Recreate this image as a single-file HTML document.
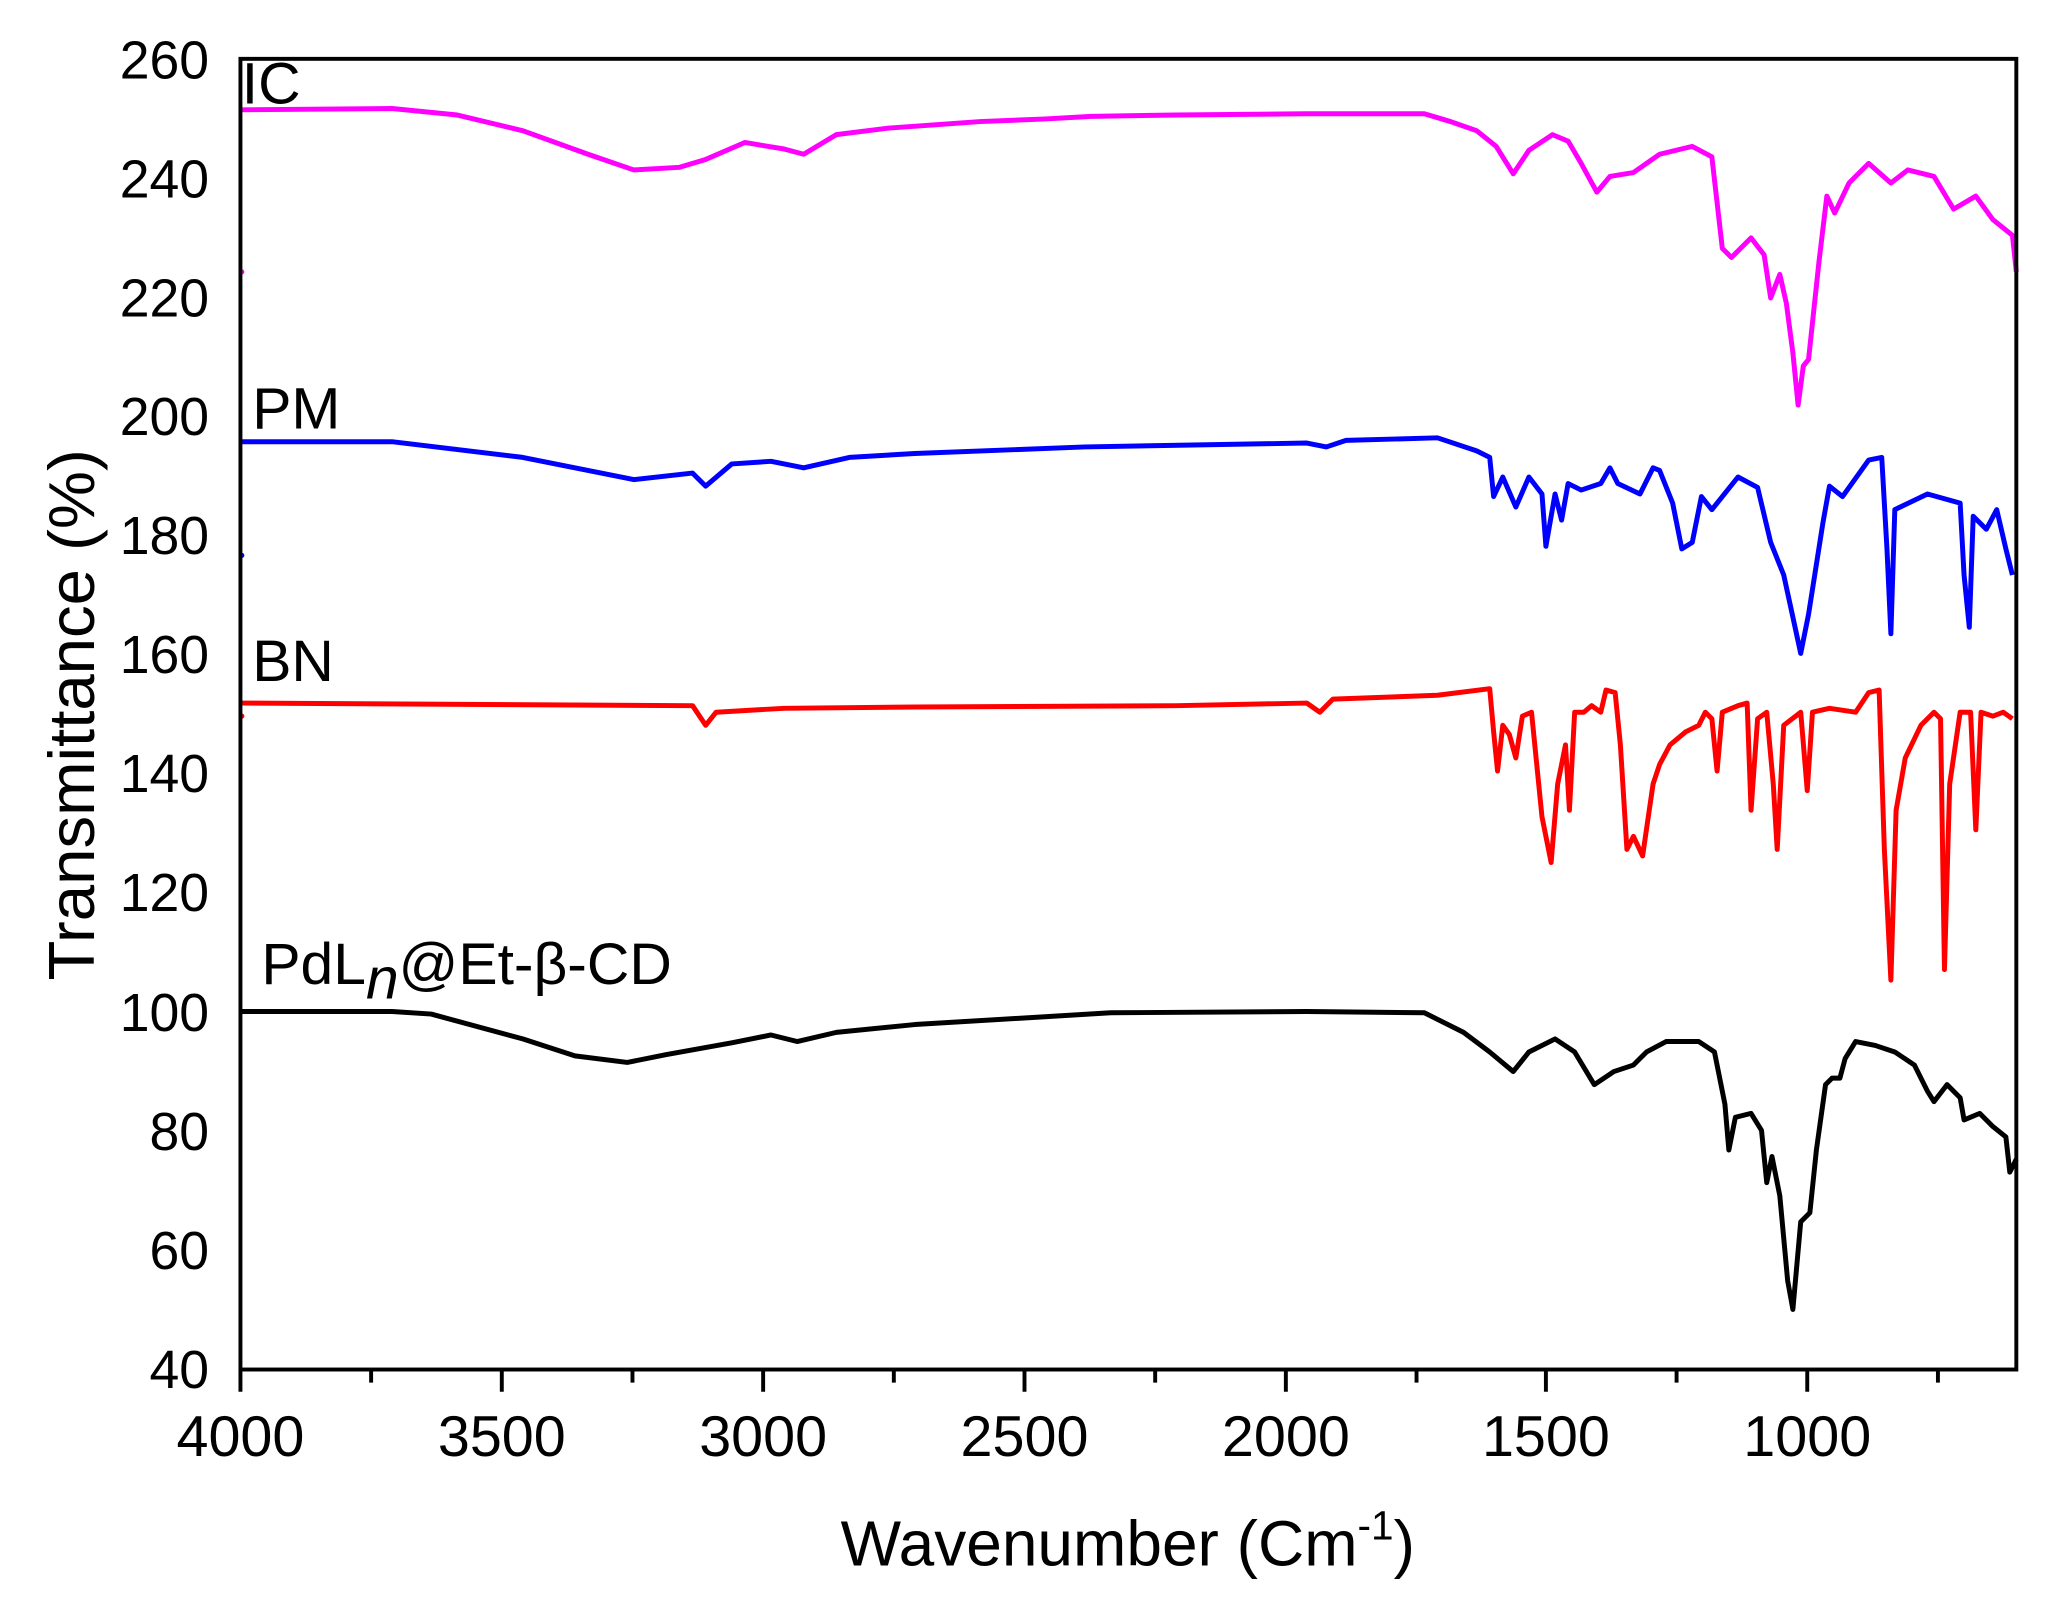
<!DOCTYPE html>
<html><head><meta charset="utf-8"><style>html,body{margin:0;padding:0;background:#fff}svg{display:block}</style></head><body>
<svg width="2049" height="1610" viewBox="0 0 1568 1232" xmlns="http://www.w3.org/2000/svg" font-family="Liberation Sans, DejaVu Sans, sans-serif">
<rect width="1568" height="1232" fill="#fff"/>
<g fill="none" stroke-width="3.8" stroke-linejoin="round">
<path stroke="#ff00ff" d="M184,84 L300,83 350,88 400,100 450,118 485,130 520,128 540,122 570,109 600,114 615,118 640,103 680,98 750,93 800,91 835,89 900,88 1000,87 1090,87 1110,93 1130,100 1145,112 1158,133 1170,115 1188,103 1200,108 1210,125 1222,147 1232,135 1250,132 1270,118 1295,112 1310,120 1318,190 1325,197 1340,182 1350,195 1355,228 1362,210 1367,232 1372,270 1376,310 1380,280 1384,275 1392,200 1398,150 1404,163 1415,140 1430,125 1447,140 1460,130 1480,135 1495,160 1512,150 1525,168 1540,180 1543,208"/>
<path stroke="#0000ff" d="M184,338 L300,338 400,350 485,367 530,362 540,372 560,355 590,353 615,358 650,350 700,347 830,342 1000,339 1015,342 1030,337 1100,335 1130,345 1140,350 1143,380 1150,365 1160,388 1170,365 1180,378 1183,418 1190,378 1195,398 1200,370 1210,375 1225,370 1232,358 1238,370 1255,378 1265,358 1270,360 1280,385 1287,420 1295,415 1302,380 1310,390 1330,365 1345,373 1355,415 1365,440 1370,463 1378,500 1384,470 1395,400 1400,372 1410,380 1430,352 1440,350 1444,420 1447,485 1450,390 1475,378 1500,385 1503,440 1507,480 1510,395 1520,405 1528,390 1535,420 1540,440"/>
<path stroke="#ff0000" d="M184,538 L530,540 540,555 548,545 600,542 700,541 900,540 1000,538 1010,545 1020,535 1100,532 1140,527 1143,560 1146,590 1150,555 1155,562 1160,580 1165,548 1172,545 1180,625 1187,660 1192,600 1198,570 1201,620 1205,545 1212,545 1218,540 1225,545 1229,528 1236,530 1240,570 1245,650 1250,640 1257,655 1265,600 1270,585 1278,570 1290,560 1300,555 1305,545 1310,550 1314,590 1318,545 1330,540 1337,538 1340,620 1345,550 1352,545 1357,600 1360,650 1365,555 1378,545 1383,605 1387,545 1400,542 1420,545 1430,530 1438,528 1442,650 1447,750 1451,620 1458,580 1470,555 1480,545 1485,550 1488,742 1492,600 1500,545 1508,545 1512,635 1516,545 1525,548 1533,545 1540,550"/>
<path stroke="#000" d="M184,774 L300,774 330,776 400,795 440,808 480,813 510,807 560,798 590,792 610,797 640,790 700,784 850,775 1000,774 1090,775 1120,790 1140,805 1158,820 1170,805 1190,795 1205,805 1220,830 1235,820 1250,815 1260,805 1275,797 1300,797 1312,805 1320,845 1323,880 1328,855 1340,852 1348,865 1352,905 1356,885 1362,915 1368,980 1372,1002 1378,935 1385,928 1390,880 1397,830 1402,825 1408,825 1412,810 1420,797 1435,800 1450,805 1465,815 1475,835 1480,843 1490,830 1500,840 1503,857 1515,852 1525,862 1535,870 1538,897 1543,887"/>
</g>
<circle cx="185" cy="208" r="2" fill="#ff00ff"/><circle cx="185" cy="425" r="2" fill="#0000ff"/><circle cx="185" cy="548" r="2" fill="#ff0000"/>
<rect x="184" y="45" width="1359" height="1003" fill="none" stroke="#000" stroke-width="3"/>
<g stroke="#000" stroke-width="3">
<path d="M184,1048v17M384,1048v17M584,1048v17M784,1048v17M984,1048v17M1183,1048v17M1383,1048v17M284,1048v10M484,1048v10M684,1048v10M884,1048v10M1084,1048v10M1283,1048v10M1483,1048v10"/>
</g>
<g font-size="41" text-anchor="end" fill="#000">
<text x="160" y="60">260</text><text x="160" y="151">240</text><text x="160" y="242">220</text><text x="160" y="333">200</text><text x="160" y="424">180</text><text x="160" y="515">160</text><text x="160" y="606">140</text><text x="160" y="697">120</text><text x="160" y="789">100</text><text x="160" y="880">80</text><text x="160" y="971">60</text><text x="160" y="1062">40</text>
</g>
<g font-size="44" text-anchor="middle" fill="#000">
<text x="184" y="1114">4000</text><text x="384" y="1114">3500</text><text x="584" y="1114">3000</text><text x="784" y="1114">2500</text><text x="984" y="1114">2000</text><text x="1183" y="1114">1500</text><text x="1383" y="1114">1000</text>
<text x="863" y="1198" font-size="49">Wavenumber (Cm<tspan font-size="31" dy="-20">-1</tspan><tspan dy="20">)</tspan></text>
<text transform="translate(72,547) rotate(-90)" font-size="50">Transmittance (%)</text>
</g>
<g font-size="45" fill="#000">
<text x="185" y="79">IC</text><text x="193" y="328">PM</text><text x="193" y="521">BN</text>
<text x="200" y="753">PdL<tspan font-style="italic" dy="11">n</tspan><tspan dy="-11">@Et-β-CD</tspan></text>
</g>
</svg>
</body></html>
